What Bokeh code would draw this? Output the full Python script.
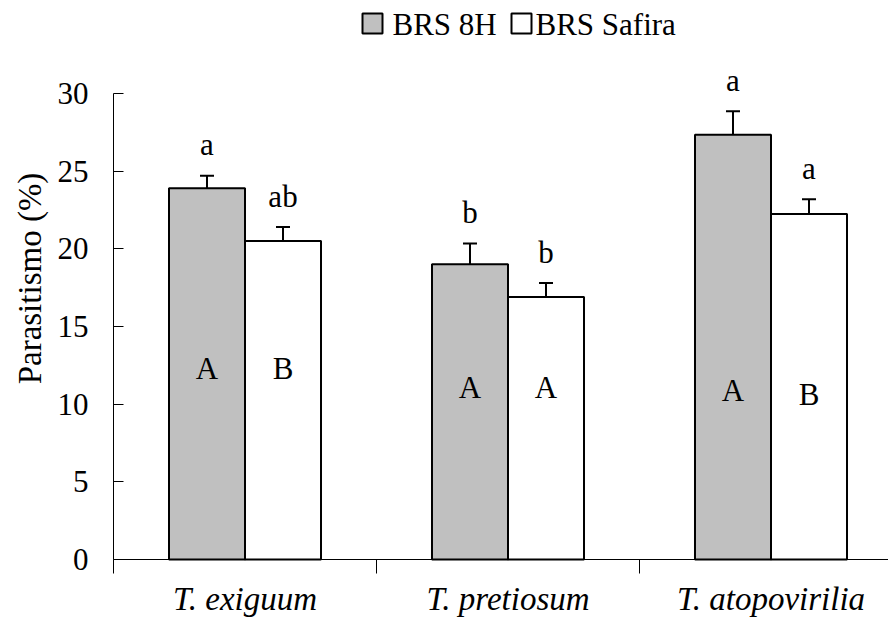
import math
from bokeh.plotting import figure
from bokeh.models import (ColumnDataSource, FixedTicker, Range1d, Label, BoxAnnotation)
from bokeh.embed import file_html
from bokeh.resources import INLINE

# ---- data ----
species = ["T. exiguum", "T. pretiosum", "T. atopovirilia"]
cultivars = ["BRS 8H", "BRS Safira"]
brs8h_mean = [23.9, 19.0, 27.35]
brs8h_err = [0.8, 1.35, 1.5]
safira_mean = [20.5, 16.9, 22.25]
safira_err = [0.9, 0.9, 0.95]
brs8h_letters_top = ["a", "b", "a"]
safira_letters_top = ["ab", "b", "a"]
brs8h_letters_in = ["A", "A", "A"]
safira_letters_in = ["B", "A", "B"]
brs8h_in_y = [12.3, 11.1, 10.85]
safira_in_y = [12.3, 11.1, 10.65]
y_ticks = [0, 5, 10, 15, 20, 25, 30]
y_title = "Parasitismo (%)"

FONT = "Liberation Serif"
GRAY = "#C0C0C0"
BAR_W = 0.289
n = len(species)
centers = [i + 0.5 for i in range(n)]
x_gray = [c - BAR_W / 2 for c in centers]
x_white = [c + BAR_W / 2 for c in centers]

src_g = ColumnDataSource(dict(x=x_gray, top=brs8h_mean,
                              up=[m + e for m, e in zip(brs8h_mean, brs8h_err)],
                              lt=brs8h_letters_top, li=brs8h_letters_in, liy=brs8h_in_y))
src_w = ColumnDataSource(dict(x=x_white, top=safira_mean,
                              up=[m + e for m, e in zip(safira_mean, safira_err)],
                              lt=safira_letters_top, li=safira_letters_in, liy=safira_in_y))

# ---- layout (pixels) ----
W, H = 888, 627
AX_X, AX_Y = 113, 559          # page position of the axes origin
PX_PER_UNIT = 15.533
CAT_PX = 263.0
x_range = Range1d(-AX_X / CAT_PX, (W - AX_X) / CAT_PX)
y_range = Range1d(-(H - AX_Y) / PX_PER_UNIT, AX_Y / PX_PER_UNIT)

p = figure(width=W, height=H, output_backend="svg", toolbar_location=None,
           x_range=x_range, y_range=y_range,
           min_border_left=0, min_border_right=0, min_border_top=0, min_border_bottom=0)
p.outline_line_color = None
p.xgrid.grid_line_color = None
p.ygrid.grid_line_color = None

p.vbar(x="x", top="top", bottom=0, width=BAR_W, source=src_g,
       fill_color=GRAY, line_color="black", line_width=2)
p.vbar(x="x", top="top", bottom=0, width=BAR_W, source=src_w,
       fill_color="white", line_color="black", line_width=2)

for src in (src_g, src_w):
    p.segment(x0="x", y0="top", x1="x", y1="up", source=src, line_color="black", line_width=2)
    p.scatter(x="x", y="up", source=src, marker="dash", size=14, line_color="black", line_width=2)
    p.text(x="x", y="up", text="lt", source=src, text_align="center", text_baseline="alphabetic",
           y_offset=-31, text_font={"value": FONT}, text_font_size="31px", text_color="black")
    p.text(x="x", y="liy", text="li", source=src, text_align="center", text_baseline="middle",
           text_font={"value": FONT}, text_font_size="31px", text_color="black")

# ---- x axis (Bokeh axis at y=0; serif labels as text glyphs) ----
xa = p.xaxis[0]
xa.fixed_location = 0
xa.bounds = (0, x_range.end)
xa.ticker = FixedTicker(ticks=centers, minor_ticks=list(range(n)))
xa.major_label_overrides = {c: "" for c in centers}
xa.major_label_text_font_size = "0px"
xa.major_label_standoff = 0
xa.major_tick_in = 0
xa.major_tick_out = 0
xa.minor_tick_in = 0
xa.minor_tick_out = 14
xa.minor_tick_line_color = "black"
xa.axis_line_color = "black"
p.text(x=centers, y=[0] * n, text=species, y_offset=39, text_align="center",
       text_baseline="middle", text_font={"value": FONT}, text_font_size="33px",
       text_font_style="italic", text_color="black")

# ---- y axis (Bokeh axis at x=0) ----
ya = p.yaxis[0]
ya.fixed_location = 0
ya.bounds = (0, 30)
ya.ticker = FixedTicker(ticks=y_ticks, minor_ticks=[])
ya.major_label_overrides = {t: "" for t in y_ticks}
ya.major_label_text_font_size = "0px"
ya.major_label_standoff = 0
ya.major_tick_in = 10
ya.major_tick_out = 0
ya.major_tick_line_color = "black"
ya.axis_line_color = "black"
p.text(x=[0] * len(y_ticks), y=y_ticks, text=[str(t) for t in y_ticks], x_offset=-25,
       text_align="right", text_baseline="middle", text_font={"value": FONT},
       text_font_size="31px", text_color="black")
p.text(x=[0], y=[(AX_Y - 278) / PX_PER_UNIT], text=[y_title], x_offset=-84, angle=math.pi / 2,
       text_align="center", text_baseline="middle", text_font={"value": FONT},
       text_font_size="33px", text_color="black")

# ---- legend (keys + serif labels), screen units from bottom-left ----
key_fills = [GRAY, "white"]
key_left = [362, 511]
label_left = [392, 535]
for fill, kl, ll, lab in zip(key_fills, key_left, label_left, cultivars):
    p.add_layout(BoxAnnotation(left=kl, right=kl + 20, bottom=H - 33, top=H - 13,
                               left_units="screen", right_units="screen",
                               bottom_units="screen", top_units="screen",
                               fill_color=fill, fill_alpha=1, line_color="black",
                               line_width=2, line_alpha=1))
    p.add_layout(Label(x=ll, y=H - 24, x_units="screen", y_units="screen", text=lab,
                       text_align="left", text_baseline="middle", text_font=FONT,
                       text_font_size="31px", text_color="black"))

open("out.html", "w").write(file_html(p, INLINE))
